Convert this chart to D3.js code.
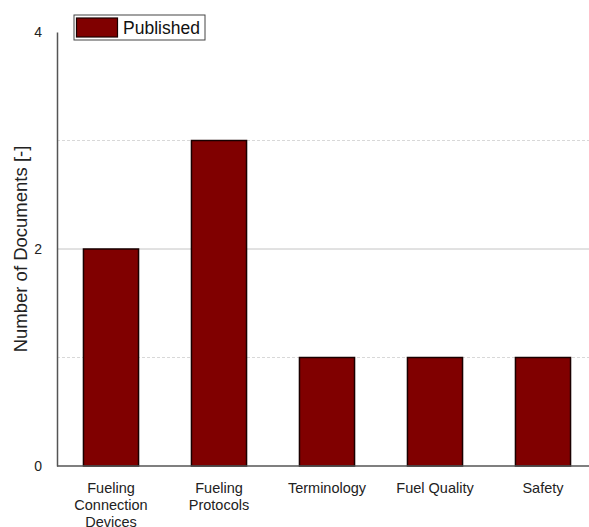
<!DOCTYPE html>
<html>
<head>
<meta charset="utf-8">
<script src="https://cdn.jsdelivr.net/npm/d3@7"></script>
<style>
  body { margin: 0; background: #fff; }
  svg { display: block; font-family: "Liberation Sans", Arial, sans-serif; }
</style>
</head>
<body>
<div id="chart"></div>
<script>
// chart data
const categories = [
  ['Fueling', 'Connection', 'Devices'],
  ['Fueling', 'Protocols'],
  ['Terminology'],
  ['Fuel Quality'],
  ['Safety']
];
const published = [2, 3, 1, 1, 1];
const yTicks = [0, 2, 4];
const majorGrid = [2];
const minorGrid = [1, 3];
const seriesName = 'Published';

const W = 589, H = 527;
const m = {left: 57, top: 32, bottom: 61};

const svg = d3.select('#chart').append('svg')
  .attr('width', W)
  .attr('height', H);

const keys = categories.map((c, i) => i);
const x = d3.scaleBand()
  .domain(keys)
  .range([m.left, m.left + 540])
  .paddingInner(0.49)
  .paddingOuter(0.245);

const y = d3.scaleLinear()
  .domain([0, 4])
  .range([H - m.bottom, m.top]);

// grid lines
svg.append('g').selectAll('line')
  .data(minorGrid)
  .join('line')
  .attr('x1', m.left).attr('x2', W)
  .attr('y1', d => y(d)).attr('y2', d => y(d))
  .attr('stroke', '#d8d8d8')
  .attr('stroke-dasharray', '3,2');

svg.append('g').selectAll('line')
  .data(majorGrid)
  .join('line')
  .attr('x1', m.left).attr('x2', W)
  .attr('y1', d => y(d)).attr('y2', d => y(d))
  .attr('stroke', '#c4c4c4');

// bars
svg.append('g').selectAll('rect')
  .data(published)
  .join('rect')
  .attr('x', (d, i) => x(i))
  .attr('y', d => y(d))
  .attr('width', x.bandwidth())
  .attr('height', d => y(0) - y(d))
  .attr('fill', '#800000')
  .attr('stroke', '#1a0000')
  .attr('stroke-width', 1.5);

// y axis
const yAxis = svg.append('g')
  .attr('transform', `translate(${m.left},0)`)
  .call(d3.axisLeft(y).tickValues(yTicks).tickSize(0).tickPadding(15).tickFormat(d3.format('d')));
yAxis.select('.domain').attr('stroke', '#555').attr('stroke-width', 1.5);
yAxis.selectAll('text').attr('font-size', 14).attr('fill', '#222')
  .attr('font-family', '"Liberation Sans", Arial, sans-serif');

// x axis
const xAxis = svg.append('g')
  .attr('transform', `translate(0,${y(0)})`);
xAxis.append('line')
  .attr('x1', m.left).attr('x2', W)
  .attr('stroke', '#555').attr('stroke-width', 1.5);

xAxis.selectAll('text')
  .data(categories)
  .join('text')
  .attr('x', (d, i) => x(i) + x.bandwidth() / 2)
  .attr('y', 27)
  .attr('text-anchor', 'middle')
  .attr('font-size', 14.5)
  .attr('fill', '#222')
  .selectAll('tspan')
  .data(d => d)
  .join('tspan')
  .attr('x', function () { return this.parentNode.getAttribute('x'); })
  .attr('dy', (d, i) => i === 0 ? 0 : 17)
  .text(d => d);

// y label
svg.append('text')
  .attr('transform', `translate(27,${y(2)}) rotate(-90)`)
  .attr('text-anchor', 'middle')
  .attr('font-size', 18.5)
  .attr('fill', '#222')
  .text('Number of Documents [-]');

// legend
const lg = svg.append('g').attr('transform', 'translate(74,15)');
lg.append('rect')
  .attr('width', 131).attr('height', 25)
  .attr('fill', '#fff').attr('stroke', '#444');
lg.append('rect')
  .attr('x', 2.5).attr('y', 3)
  .attr('width', 41).attr('height', 19)
  .attr('fill', '#800000').attr('stroke', '#1a0000').attr('stroke-width', 1.2);
lg.append('text')
  .attr('x', 49).attr('y', 19)
  .attr('font-size', 17.5)
  .attr('fill', '#111')
  .text(seriesName);
</script>
</body>
</html>
